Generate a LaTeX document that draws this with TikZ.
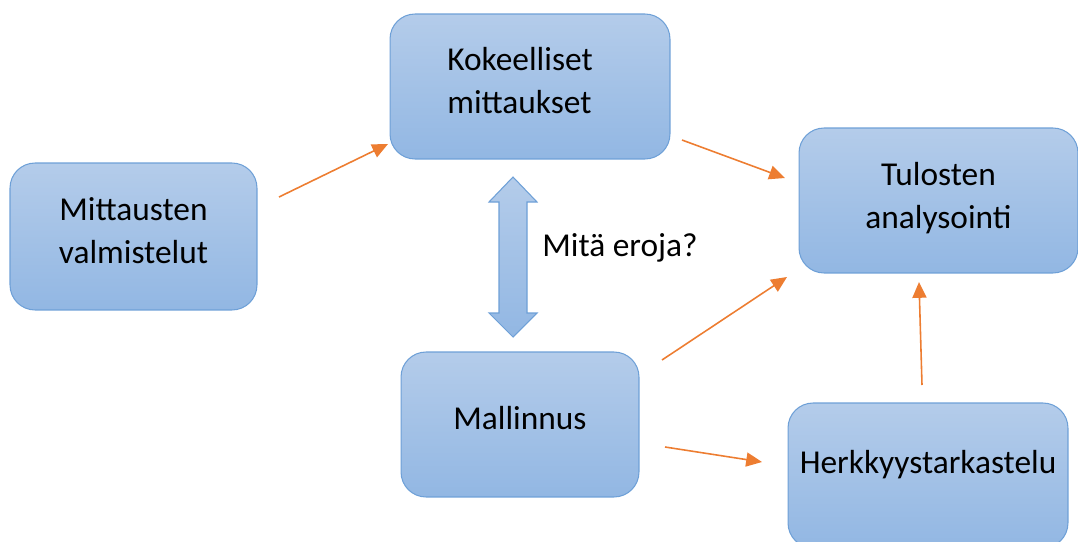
\documentclass[tikz,border=0pt]{standalone}
\usepackage{fontspec}
\setmainfont{Carlito}
\definecolor{boxline}{RGB}{110,160,215}
\definecolor{boxtop}{RGB}{180,204,234}
\definecolor{boxbot}{RGB}{146,183,227}
\definecolor{flowcol}{RGB}{237,125,49}
\tikzset{
  stage/.style={rectangle,rounded corners=0.5cm,draw=boxline,line width=0.6pt,
    top color=boxtop,bottom color=boxbot},
  caption/.style={align=center,font=\fontsize{19}{24.5}\selectfont,inner sep=0pt},
  flow/.style={draw=flowcol,line width=0.9pt,-{Triangle[length=9pt,width=8pt]}}
}
\usetikzlibrary{arrows.meta}
\begin{document}
\begin{tikzpicture}[x=0.02cm,y=-0.02cm]
\useasboundingbox (0,0) rectangle (1078,541);
% stages
\node[stage,minimum width=4.94cm,minimum height=2.94cm] (prep) at (133.5,236.5) {};
\node[stage,minimum width=5.6cm,minimum height=2.9cm] (meas) at (530,86.5) {};
\node[stage,minimum width=5.58cm,minimum height=2.9cm] (anal) at (938.5,200.5) {};
\node[stage,minimum width=4.76cm,minimum height=2.9cm] (model) at (520,424.5) {};
\node[stage,minimum width=5.6cm,minimum height=2.9cm] (sens) at (928,475.5) {};
% texts
\node[caption] (prepT) at (133.5,230.5) {Mittausten\\valmistelut};
\node[caption,align=left,anchor=west] (measT) at (447,81) {Kokeelliset\\mittaukset};
\node[caption] (analT) at (938.5,198) {Tulosten\\analysointi};
\node[caption] (modelT) at (520,418.5) {Mallinnus};
\node[caption] (sensT) at (928,465) {Herkkyystarkastelu};
%
% comparison arrow
\draw[draw=boxline,line width=0.6pt,top color=boxtop,bottom color=boxbot]
  (513,177)--(537,202)--(527,202)--(527,313)--(537,313)--(513,337)
  --(489,313)--(499,313)--(499,202)--(489,202)--cycle;
\node[caption,anchor=west] (diff) at (542,248) {Mitä eroja?};
%
\coordinate (p1) at (279,197);
\coordinate (p2) at (388,144);
\coordinate (p3) at (682,140);
\coordinate (p4) at (785,178);
\coordinate (p5) at (662,360);
\coordinate (p6) at (787,277);
\coordinate (p7) at (665,447);
\coordinate (p8) at (762,462);
\coordinate (p9) at (922,385);
\coordinate (p10) at (919,282);
\draw[flow] (p1)--(p2);
\draw[flow] (p3)--(p4);
\draw[flow] (p5)--(p6);
\draw[flow] (p7)--(p8);
\draw[flow] (p9)--(p10);
\end{tikzpicture}
\end{document}
